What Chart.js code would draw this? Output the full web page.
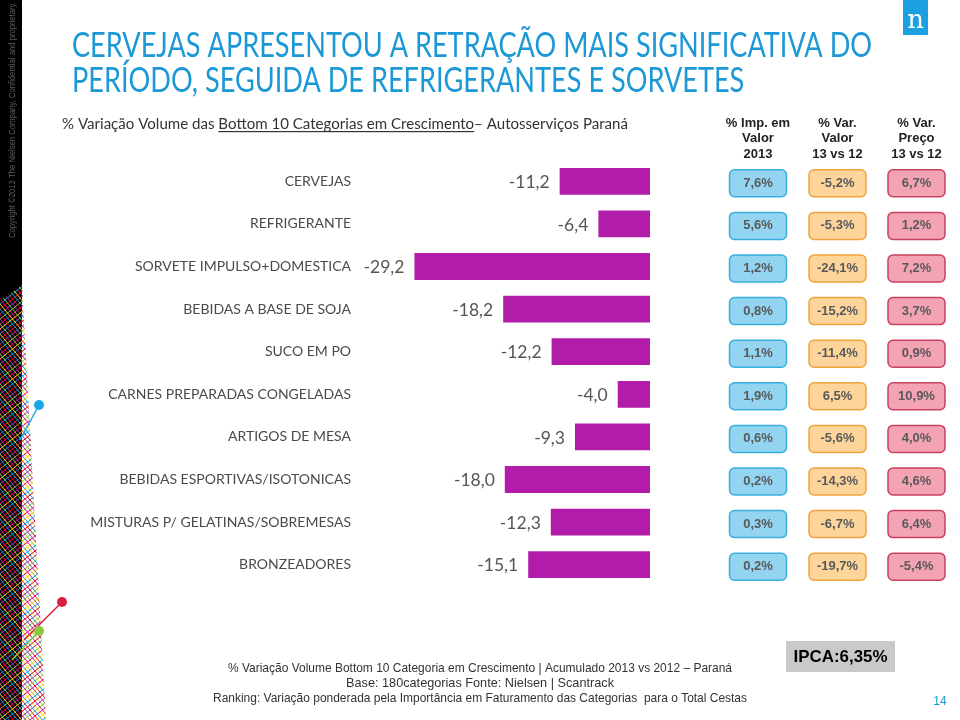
<!DOCTYPE html>
<html>
<head>
<meta charset="utf-8">
<script src="https://cdn.jsdelivr.net/npm/chart.js@4"></script>
<style>
  html, body { margin: 0; padding: 0; background: #fff; }
  #wrap { position: relative; width: 960px; height: 720px; }
</style>
</head>
<body>
<div id="wrap"><canvas id="volumeChart"></canvas></div>
<script>
// Chart data
const categories = [
    'CERVEJAS', 'REFRIGERANTE', 'SORVETE IMPULSO+DOMESTICA', 'BEBIDAS A BASE DE SOJA',
    'SUCO EM PO', 'CARNES PREPARADAS CONGELADAS', 'ARTIGOS DE MESA',
    'BEBIDAS ESPORTIVAS/ISOTONICAS', 'MISTURAS P/ GELATINAS/SOBREMESAS', 'BRONZEADORES'
];
const volumeVar = [-11.2, -6.4, -29.2, -18.2, -12.2, -4.0, -9.3, -18.0, -12.3, -15.1];
const impValor = [7.6, 5.6, 1.2, 0.8, 1.1, 1.9, 0.6, 0.2, 0.3, 0.2];
const varValor = [-5.2, -5.3, -24.1, -15.2, -11.4, 6.5, -5.6, -14.3, -6.7, -19.7];
const varPreco = [6.7, 1.2, 7.2, 3.7, 0.9, 10.9, 4.0, 4.6, 6.4, -5.4];

const headers = [
    ['% Imp. em', 'Valor', '2013'],
    ['% Var.', 'Valor', '13 vs 12'],
    ['% Var.', 'Preço', '13 vs 12']
];
const footerLines = [
    '% Variação Volume Bottom 10 Categoria em Crescimento | Acumulado 2013 vs 2012 – Paraná',
    'Base: 180categorias Fonte: Nielsen | Scantrack',
    'Ranking: Variação ponderada pela Importância em Faturamento das Categorias  para o Total Cestas'
];

const fmt = (v, d) => v.toFixed(d).replace('.', ',');

// Columns of rounded boxes on the right
const boxColumns = [
    { values: impValor, cx: 758, fill: '#93d5f1', stroke: '#3aaedc' },
    { values: varValor, cx: 837.5, fill: '#fdd59b', stroke: '#eea43c' },
    { values: varPreco, cx: 916.5, fill: '#f4a3b4', stroke: '#c7425e' }
];

function roundRect(ctx, x, y, w, h, r) {
    ctx.beginPath();
    ctx.moveTo(x + r, y);
    ctx.arcTo(x + w, y, x + w, y + h, r);
    ctx.arcTo(x + w, y + h, x, y + h, r);
    ctx.arcTo(x, y + h, x, y, r);
    ctx.arcTo(x, y, x + w, y, r);
    ctx.closePath();
}

function drawLeftStrip(ctx) {
    ctx.save();
    ctx.fillStyle = '#000';
    ctx.fillRect(0, 0, 22, 720);
    // copyright text, rotated
    ctx.translate(13, 238);
    ctx.rotate(-Math.PI / 2);
    ctx.fillStyle = '#5e5e5e';
    ctx.font = '9px "Liberation Sans"';
    ctx.textBaseline = 'middle';
    ctx.fillText('Copyright ©2013 The Nielsen Company. Confidential and proprietary.', 0, 0, 236);
    ctx.restore();

    // coloured mesh
    ctx.save();
    ctx.beginPath();
    ctx.moveTo(0, 300);
    ctx.lineTo(22, 285);
    ctx.lineTo(46, 720);
    ctx.lineTo(0, 720);
    ctx.closePath();
    ctx.clip();
    const cols = ['#e6007e', '#ffd400', '#00a0e0', '#e30613', '#8e3fa0', '#8dc63f'];
    ctx.lineWidth = 1;
    for (let i = -60; i < 200; i++) {
        ctx.strokeStyle = cols[((i % 6) + 6) % 6];
        ctx.beginPath();
        ctx.moveTo(-20, 280 + i * 5);
        ctx.lineTo(80, 200 + i * 5);
        ctx.stroke();
        ctx.strokeStyle = cols[((i + 3) % 6 + 6) % 6];
        ctx.beginPath();
        ctx.moveTo(-20, 200 + i * 5);
        ctx.lineTo(80, 320 + i * 5);
        ctx.stroke();
    }
    ctx.restore();

    // dots
    const dots = [
        { x: 39, y: 405, x2: 20, y2: 440, c: '#1aa7e6' },
        { x: 62, y: 602, x2: 24, y2: 640, c: '#d8203c' },
        { x: 39, y: 631, x2: 12, y2: 660, c: '#8dc63f' }
    ];
    ctx.save();
    dots.forEach(d => {
        ctx.strokeStyle = d.c;
        ctx.lineWidth = 1.5;
        ctx.beginPath();
        ctx.moveTo(d.x, d.y);
        ctx.lineTo(d.x2, d.y2);
        ctx.stroke();
        ctx.fillStyle = d.c;
        ctx.beginPath();
        ctx.arc(d.x, d.y, 5, 0, Math.PI * 2);
        ctx.fill();
    });
    ctx.restore();
}

const pagePlugin = {
    id: 'page',
    beforeDraw(chart) {
        const ctx = chart.ctx;
        ctx.save();
        ctx.fillStyle = '#fff';
        ctx.fillRect(0, 0, chart.width, chart.height);

        drawLeftStrip(ctx);

        // Nielsen logo
        ctx.fillStyle = '#1ba1e2';
        ctx.fillRect(903, 0, 25, 35);
        ctx.fillStyle = '#fff';
        ctx.font = '26px "DejaVu Serif"';
        ctx.textAlign = 'center';
        ctx.textBaseline = 'alphabetic';
        ctx.fillText('n', 915.5, 28);

        // Title
        ctx.fillStyle = '#1b98d5';
        ctx.font = '35px Lato';
        ctx.textAlign = 'left';
        const t1 = 'CERVEJAS APRESENTOU A RETRAÇÃO MAIS SIGNIFICATIVA DO';
        const t2 = 'PERÍODO, SEGUIDA DE REFRIGERANTES E SORVETES';
        const sx = 800 / ctx.measureText(t1).width;
        ctx.save();
        ctx.translate(72, 0);
        ctx.scale(sx, 1);
        ctx.fillText(t1, 0, 57);
        ctx.fillText(t2, 0, 92);
        ctx.restore();

        // Subtitle with underlined part
        ctx.fillStyle = '#333';
        ctx.font = '15.5px Lato';
        const parts = ['% Variação Volume das ', 'Bottom 10 Categorias em Crescimento', '– Autosserviços Paraná'];
        const total = parts.reduce((s, p) => s + ctx.measureText(p).width, 0);
        const ss = 566 / total;
        ctx.save();
        ctx.translate(62, 0);
        ctx.scale(ss, 1);
        let px = 0;
        parts.forEach((p, i) => {
            const w = ctx.measureText(p).width;
            ctx.fillText(p, px, 129);
            if (i === 1) {
                ctx.fillRect(px, 131, w, 1.2);
            }
            px += w;
        });
        ctx.restore();

        // Column headers
        ctx.fillStyle = '#222';
        ctx.font = 'bold 13px "Liberation Sans"';
        ctx.textAlign = 'center';
        ctx.textBaseline = 'middle';
        headers.forEach((lines, c) => {
            lines.forEach((l, j) => ctx.fillText(l, boxColumns[c].cx, 123 + j * 15.5));
        });

        // Footer
        ctx.fillStyle = '#333';
        ctx.font = '13px "Liberation Sans"';
        ctx.fillText(footerLines[0], 480, 668, 504);
        ctx.fillText(footerLines[1], 480, 683, 268);
        ctx.fillText(footerLines[2], 480, 698, 534);

        // IPCA box
        ctx.fillStyle = '#c9c9c9';
        ctx.fillRect(786, 641, 109, 31);
        ctx.fillStyle = '#000';
        ctx.font = 'bold 17px "Liberation Sans"';
        ctx.fillText('IPCA:6,35%', 840.5, 657, 94);

        // page number
        ctx.fillStyle = '#1b98d5';
        ctx.font = '12px "Liberation Sans"';
        ctx.fillText('14', 940, 702);
        ctx.restore();
    },
    afterDatasetsDraw(chart) {
        const ctx = chart.ctx;
        const yScale = chart.scales.y;
        ctx.save();
        // value labels left of bars
        ctx.fillStyle = '#555';
        ctx.font = '17.5px Lato';
        ctx.textAlign = 'right';
        ctx.textBaseline = 'middle';
        chart.getDatasetMeta(0).data.forEach((bar, i) => {
            ctx.fillText(fmt(volumeVar[i], 1), bar.x - 10, bar.y + 1);
        });

        // boxes
        ctx.font = 'bold 13px "Liberation Sans"';
        ctx.textAlign = 'center';
        boxColumns.forEach(col => {
            col.values.forEach((v, i) => {
                const cy = yScale.getPixelForValue(i) + 2;
                roundRect(ctx, col.cx - 28.5, cy - 13.5, 57, 27, 5);
                ctx.fillStyle = col.fill;
                ctx.fill();
                ctx.lineWidth = 1.5;
                ctx.strokeStyle = col.stroke;
                ctx.stroke();
                ctx.fillStyle = '#58595b';
                ctx.fillText(fmt(v, 1) + '%', col.cx, cy);
            });
        });
        ctx.restore();
    }
};

const ctx = document.getElementById('volumeChart').getContext('2d');
const chart = new Chart(ctx, {
    type: 'bar',
    data: {
        labels: categories,
        datasets: [{
            label: '% Variação Volume',
            data: volumeVar,
            backgroundColor: '#b11ca9',
            barPercentage: 0.63,
            categoryPercentage: 1
        }]
    },
    options: {
        indexAxis: 'y',
        responsive: true,
        maintainAspectRatio: false,
        animation: false,
        layout: {
            padding: { top: 160, bottom: 134, left: 0, right: 310 }
        },
        plugins: {
            legend: { display: false },
            tooltip: { enabled: false }
        },
        scales: {
            x: { display: false, min: -30, max: 0 },
            y: {
                grid: { display: false, drawTicks: false },
                border: { display: false },
                ticks: {
                    color: '#4a4a4a',
                    font: { family: 'Lato', size: 14 },
                    padding: 57
                },
                afterFit(scale) {
                    scale.width = 408;  // puts zero line at x = 650
                }
            }
        }
    },
    plugins: [pagePlugin]
});
</script>
</body>
</html>
